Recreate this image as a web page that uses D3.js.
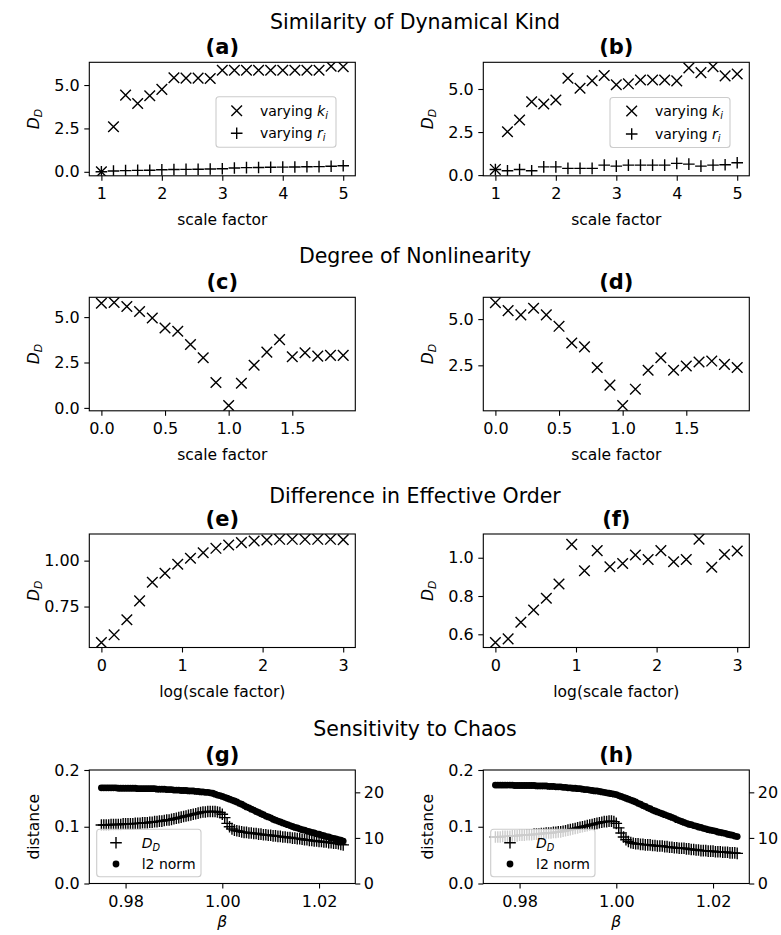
<!DOCTYPE html>
<html>
<head>
<meta charset="utf-8">
<script src="https://cdn.jsdelivr.net/npm/d3@7"></script>
<style>
  body { margin: 0; background: #fff; }
  svg text { font-family: "DejaVu Sans", sans-serif; fill: #000; }
</style>
</head>
<body>
<svg id="fig" width="781" height="935"></svg>
<script>
// ---- values ----
const scaleAB = [1.0, 1.2, 1.4, 1.6, 1.8, 2.0, 2.2, 2.4, 2.6, 2.8, 3.0, 3.2, 3.4, 3.6, 3.8, 4.0, 4.2, 4.4, 4.6, 4.8, 5.0];
const kiA = [0.0, 2.6, 4.42, 3.94, 4.38, 4.75, 5.42, 5.4, 5.4, 5.38, 5.85, 5.85, 5.85, 5.85, 5.85, 5.85, 5.85, 5.85, 5.85, 6.08, 6.05];
const riA = [0.0, 0.05, 0.07, 0.08, 0.09, 0.12, 0.13, 0.14, 0.15, 0.16, 0.18, 0.22, 0.24, 0.25, 0.26, 0.27, 0.28, 0.29, 0.3, 0.32, 0.35];
const kiB = [0.33, 2.52, 3.2, 4.26, 4.13, 4.36, 5.62, 5.04, 5.48, 5.78, 5.25, 5.3, 5.52, 5.52, 5.52, 5.47, 6.22, 5.95, 6.3, 5.76, 5.87];
const riB = [0.33, 0.25, 0.33, 0.25, 0.48, 0.48, 0.39, 0.39, 0.39, 0.58, 0.52, 0.58, 0.58, 0.58, 0.58, 0.68, 0.64, 0.52, 0.58, 0.6, 0.72];

const scaleCD = [0.0, 0.1, 0.2, 0.3, 0.4, 0.5, 0.6, 0.7, 0.8, 0.9, 1.0, 1.1, 1.2, 1.3, 1.4, 1.5, 1.6, 1.7, 1.8, 1.9];
const nonlinC = [5.76, 5.8, 5.58, 5.31, 4.95, 4.4, 4.22, 3.49, 2.76, 1.4, 0.13, 1.36, 2.35, 3.07, 3.76, 2.82, 3.04, 2.85, 2.89, 2.89];
const nonlinD = [5.89, 5.46, 5.23, 5.59, 5.23, 4.61, 3.71, 3.5, 2.38, 1.43, 0.32, 1.21, 2.23, 2.91, 2.23, 2.46, 2.68, 2.73, 2.55, 2.38];

const logScaleEF = [0, 0.158, 0.316, 0.474, 0.632, 0.789, 0.947, 1.105, 1.263, 1.421, 1.579, 1.737, 1.895, 2.053, 2.211, 2.368, 2.526, 2.684, 2.842, 3.0];
const orderE = [0.554, 0.596, 0.678, 0.781, 0.882, 0.931, 0.98, 1.013, 1.043, 1.067, 1.085, 1.098, 1.107, 1.112, 1.116, 1.116, 1.116, 1.116, 1.116, 1.114];
const orderF = [0.557, 0.576, 0.663, 0.727, 0.788, 0.863, 1.07, 0.932, 1.037, 0.953, 0.97, 1.014, 0.991, 1.037, 0.979, 0.991, 1.097, 0.95, 1.017, 1.035];

const beta = [
  0.975, 0.9755, 0.976, 0.9765, 0.977, 0.9775, 0.978, 0.9785, 0.979, 0.9795,
  0.98, 0.9805, 0.981, 0.9815, 0.982, 0.9825, 0.983, 0.9835, 0.984, 0.9845,
  0.985, 0.9855, 0.986, 0.9865, 0.987, 0.9875, 0.988, 0.9885, 0.989, 0.9895,
  0.99, 0.9905, 0.991, 0.9915, 0.992, 0.9925, 0.993, 0.9935, 0.994, 0.9945,
  0.995, 0.9955, 0.996, 0.9965, 0.997, 0.9975, 0.998, 0.9985, 0.999, 0.9995,
  1.0, 1.0005, 1.001, 1.0015, 1.002, 1.0025, 1.003, 1.0035, 1.004, 1.0045,
  1.005, 1.0055, 1.006, 1.0065, 1.007, 1.0075, 1.008, 1.0085, 1.009, 1.0095,
  1.01, 1.0105, 1.011, 1.0115, 1.012, 1.0125, 1.013, 1.0135, 1.014, 1.0145,
  1.015, 1.0155, 1.016, 1.0165, 1.017, 1.0175, 1.018, 1.0185, 1.019, 1.0195,
  1.02, 1.0205, 1.021, 1.0215, 1.022, 1.0225, 1.023, 1.0235, 1.024, 1.0245,
  1.025];
const ddG = [
  0.103, 0.103, 0.103, 0.103, 0.104, 0.104, 0.104, 0.104, 0.104, 0.105, 0.105,
  0.105, 0.105, 0.105, 0.106, 0.106, 0.106, 0.107, 0.107, 0.107, 0.108,
  0.108, 0.109, 0.109, 0.110, 0.110, 0.111, 0.112, 0.112, 0.113, 0.114,
  0.115, 0.116, 0.117, 0.118, 0.119, 0.120, 0.121, 0.122, 0.123, 0.124,
  0.125, 0.126, 0.126, 0.127, 0.127, 0.127, 0.127, 0.126, 0.125, 0.122,
  0.116, 0.106, 0.100, 0.096, 0.094, 0.093, 0.092, 0.091, 0.090, 0.090,
  0.089, 0.089, 0.088, 0.088, 0.087, 0.087, 0.086, 0.086, 0.085, 0.085,
  0.084, 0.084, 0.083, 0.083, 0.082, 0.082, 0.081, 0.081, 0.080, 0.080,
  0.079, 0.079, 0.078, 0.077, 0.077, 0.076, 0.076, 0.075, 0.075, 0.074,
  0.074, 0.073, 0.073, 0.072, 0.072, 0.071, 0.071, 0.070, 0.069, 0.068];
const l2G = [
  21.0, 21.0, 21.0, 21.0, 21.0, 21.0, 21.0, 20.9, 20.9, 20.9, 20.9,
  20.9, 20.9, 20.9, 20.9, 20.8, 20.8, 20.8, 20.8, 20.8, 20.8,
  20.8, 20.8, 20.7, 20.7, 20.7, 20.7, 20.6, 20.6, 20.6, 20.5, 20.5, 20.5,
  20.4, 20.4, 20.4, 20.3, 20.3, 20.3, 20.2, 20.2, 20.1, 20.1, 20.0, 20.0,
  19.9, 19.8, 19.6, 19.4, 19.3, 19.1, 18.9, 18.7,
  18.5, 18.3, 18.1, 17.9, 17.6, 17.4,
  17.1, 16.8, 16.6, 16.3, 16.1, 15.8, 15.6,
  15.3, 15.1, 14.8, 14.6, 14.4, 14.1, 13.9,
  13.7, 13.5, 13.3, 13.1, 12.9, 12.7, 12.5,
  12.3, 12.2, 12.0, 11.8, 11.7, 11.5, 11.4,
  11.2, 11.1, 10.9, 10.8, 10.6, 10.5, 10.3,
  10.2, 10.0, 9.9, 9.8, 9.6, 9.5, 9.3];
const ddH = [
  0.082, 0.082, 0.082, 0.083, 0.083, 0.083, 0.083, 0.084, 0.084, 0.084, 0.085,
  0.085, 0.085, 0.086, 0.086, 0.086, 0.087, 0.087, 0.087, 0.088, 0.088,
  0.089, 0.089, 0.089, 0.090, 0.090, 0.091, 0.091, 0.092, 0.093, 0.094,
  0.095, 0.096, 0.097, 0.098, 0.099, 0.100, 0.101, 0.102, 0.103, 0.104,
  0.105, 0.106, 0.107, 0.108, 0.109, 0.109, 0.110, 0.110, 0.109, 0.106,
  0.098, 0.089, 0.082, 0.077, 0.074, 0.072, 0.071, 0.070, 0.070, 0.069,
  0.069, 0.068, 0.068, 0.068, 0.067, 0.067, 0.066, 0.066, 0.066, 0.065,
  0.065, 0.064, 0.064, 0.063, 0.063, 0.062, 0.062, 0.062, 0.061, 0.061,
  0.060, 0.060, 0.059, 0.059, 0.058, 0.058, 0.058, 0.057, 0.057, 0.057,
  0.056, 0.056, 0.056, 0.055, 0.055, 0.055, 0.054, 0.054, 0.054, 0.053];
const l2H = [
  21.6, 21.6, 21.6, 21.6, 21.6, 21.6, 21.6, 21.6, 21.5, 21.5, 21.5,
  21.5, 21.5, 21.5, 21.5, 21.5, 21.5, 21.4, 21.4, 21.4, 21.4,
  21.4, 21.3, 21.3, 21.3, 21.2, 21.2, 21.2, 21.1, 21.1, 21.0,
  21.0, 20.9, 20.9, 20.8, 20.8, 20.7, 20.6, 20.6, 20.5, 20.4,
  20.3, 20.3, 20.2, 20.1, 20.0, 19.9, 19.8, 19.7, 19.6, 19.5,
  19.3, 19.1, 18.9, 18.7, 18.5, 18.3, 18.1, 17.9,
  17.6, 17.4, 17.1, 16.9, 16.6, 16.4, 16.1,
  15.9, 15.7, 15.5, 15.3, 15.1, 14.9, 14.7,
  14.5, 14.3, 14.0, 13.8, 13.6, 13.4, 13.2,
  13.0, 12.9, 12.7, 12.6, 12.4, 12.3, 12.1,
  12.0, 11.8, 11.7, 11.6, 11.5, 11.3, 11.2,
  11.1, 11.0, 10.8, 10.7, 10.6, 10.4, 10.3];

// ---- text ----
const sectionTitles = ['Similarity of Dynamical Kind', 'Degree of Nonlinearity', 'Difference in Effective Order', 'Sensitivity to Chaos'];
const panelTitles = ['(a)', '(b)', '(c)', '(d)', '(e)', '(f)', '(g)', '(h)'];
const lblDD = [{t: 'D', it: true}, {t: 'D', it: true, sub: true}];
const lblKi = [{t: 'varying '}, {t: 'k', it: true}, {t: 'i', it: true, sub: true}];
const lblRi = [{t: 'varying '}, {t: 'r', it: true}, {t: 'i', it: true, sub: true}];
const lblL2 = [{t: 'l2 norm'}];

// ---- drawing ----
const svg = d3.select('#fig');
svg.append('rect').attr('width', 781).attr('height', 935).attr('fill', '#fff');

const TICK_FS = 16, LABEL_FS = 15.5, LEGEND_FS = 14, TITLE_FS = 21, SUP_FS = 20.5;
const colX = [89.3, 483.3], rowY = [62.3, 297.3, 534, 770];
const W = 266, H = 113.5;
const markers = {
  x: 'M-5.3,-5.3L5.3,5.3M-5.3,5.3L5.3,-5.3',
  plus: 'M-5.8,0H5.8M0,-5.8V5.8'
};

// plain / italic / subscript pieces inside one text node
function rich(sel, parts, fs) {
  parts.forEach(p => {
    const t = sel.append('tspan').text(p.t);
    if (p.it) t.attr('font-style', 'italic');
    if (p.sub) t.attr('font-size', fs * 0.7).attr('dy', fs * 0.2);
  });
  return sel;
}

function drawMarks(g, xs, ys, x, y, kind) {
  const pts = d3.zip(xs, ys);
  if (kind === 'dot') {
    g.selectAll(null).data(pts).join('circle')
      .attr('cx', d => x(d[0])).attr('cy', d => y(d[1]))
      .attr('r', 3.4).attr('fill', '#000');
  } else {
    g.selectAll(null).data(pts).join('path')
      .attr('transform', d => `translate(${x(d[0])},${y(d[1])})`)
      .attr('d', markers[kind])
      .attr('stroke', '#000').attr('stroke-width', 1.4).attr('fill', 'none');
  }
}

function styleAxis(g) {
  g.select('.domain').remove();
  g.selectAll('.tick line').attr('stroke', '#000').attr('stroke-width', 1.1);
  g.selectAll('.tick text').attr('font-size', TICK_FS).attr('fill', '#000')
    .attr('font-family', '"DejaVu Sans", sans-serif');
}

function legend(l) {
  const g = svg.append('g');
  g.append('rect').attr('x', l.x).attr('y', l.y).attr('width', l.w).attr('height', l.h)
    .attr('rx', 3).attr('fill', '#fff').attr('fill-opacity', 0.8)
    .attr('stroke', '#cccccc').attr('stroke-width', 1.1);
  l.rows.forEach((r, i) => {
    const cy = l.rowY[i];
    if (r.mark === 'dot') {
      g.append('circle').attr('cx', l.markX).attr('cy', cy).attr('r', 3.4).attr('fill', '#000');
    } else {
      g.append('path').attr('transform', `translate(${l.markX},${cy})`).attr('d', markers[r.mark])
        .attr('stroke', '#000').attr('stroke-width', 1.4).attr('fill', 'none');
    }
    rich(g.append('text').attr('x', l.textX).attr('y', cy + 5).attr('font-size', LEGEND_FS), r.label, LEGEND_FS);
  });
}

function panel(p) {
  const left = colX[p.col], top = rowY[p.row];
  const x = d3.scaleLinear().domain(p.xDomain).range([left, left + W]);
  const y = d3.scaleLinear().domain(p.yDomain).range([top + H, top]);
  const clipId = 'clip-' + p.idx;
  svg.append('clipPath').attr('id', clipId).append('rect')
    .attr('x', left).attr('y', top).attr('width', W).attr('height', H);

  const xa = svg.append('g').attr('transform', `translate(0,${top + H})`)
    .call(d3.axisBottom(x).tickValues(p.xTicks).tickFormat(d3.format(p.xFmt)).tickSize(5).tickPadding(7));
  styleAxis(xa);
  const ya = svg.append('g').attr('transform', `translate(${left},0)`)
    .call(d3.axisLeft(y).tickValues(p.yTicks).tickFormat(d3.format(p.yFmt)).tickSize(5).tickPadding(4.5));
  styleAxis(ya);

  const plot = svg.append('g').attr('clip-path', `url(#${clipId})`);
  p.series.forEach(s => drawMarks(plot, s.x, s.y, x, y, s.mark));

  if (p.legend) legend(p.legend);

  if (p.right) {
    const yr = d3.scaleLinear().domain(p.right.domain).range([top + H, top]);
    const ra = svg.append('g').attr('transform', `translate(${left + W},0)`)
      .call(d3.axisRight(yr).tickValues(p.right.ticks).tickFormat(d3.format('d')).tickSize(5).tickPadding(3.5));
    styleAxis(ra);
    const plot2 = svg.append('g').attr('clip-path', `url(#${clipId})`);
    p.right.series.forEach(s => drawMarks(plot2, s.x, s.y, x, yr, s.mark));
  }

  svg.append('rect').attr('x', left).attr('y', top).attr('width', W).attr('height', H)
    .attr('fill', 'none').attr('stroke', '#000').attr('stroke-width', 1.1);

  svg.append('text').attr('x', left + W / 2).attr('y', top - 8.5)
    .attr('text-anchor', 'middle').attr('font-weight', 'bold').attr('font-size', TITLE_FS)
    .text(panelTitles[p.idx]);

  rich(svg.append('text').attr('x', left + W / 2).attr('y', top + H + (p.xLabelGap || 49))
    .attr('text-anchor', 'middle').attr('font-size', LABEL_FS), p.xLabel, LABEL_FS);

  rich(svg.append('text').attr('transform', `translate(${left - 56},${top + H / 2}) rotate(-90)`)
    .attr('dy', '0.35em').attr('text-anchor', 'middle').attr('font-size', LABEL_FS), p.yLabel, LABEL_FS);
}

const sfLabel = [{t: 'scale factor'}];
const logLabel = [{t: 'log(scale factor)'}];
const betaLabel = [{t: 'β', it: true}];

panel({idx: 0, col: 0, row: 0, xDomain: [0.8, 5.2], yDomain: [-0.23, 6.31],
  xTicks: [1, 2, 3, 4, 5], xFmt: 'd', yTicks: [0, 2.5, 5], yFmt: '.1f',
  xLabel: sfLabel, yLabel: lblDD,
  series: [{x: scaleAB, y: kiA, mark: 'x'}, {x: scaleAB, y: riA, mark: 'plus'}],
  legend: {x: 216, y: 96.7, w: 120, h: 50.6, markX: 236.7, textX: 260, rowY: [110.7, 133.3],
    rows: [{mark: 'x', label: lblKi}, {mark: 'plus', label: lblRi}]}});

panel({idx: 1, col: 1, row: 0, xDomain: [0.8, 5.2], yDomain: [-0.04, 6.55],
  xTicks: [1, 2, 3, 4, 5], xFmt: 'd', yTicks: [0, 2.5, 5], yFmt: '.1f',
  xLabel: sfLabel, yLabel: lblDD,
  series: [{x: scaleAB, y: kiB, mark: 'x'}, {x: scaleAB, y: riB, mark: 'plus'}],
  legend: {x: 610, y: 97.5, w: 120, h: 50, markX: 631.7, textX: 655, rowY: [111, 134],
    rows: [{mark: 'x', label: lblKi}, {mark: 'plus', label: lblRi}]}});

panel({idx: 2, col: 0, row: 1, xDomain: [-0.095, 1.995], yDomain: [-0.16, 6.09],
  xTicks: [0, 0.5, 1, 1.5], xFmt: '.1f', yTicks: [0, 2.5, 5], yFmt: '.1f',
  xLabel: sfLabel, yLabel: lblDD,
  series: [{x: scaleCD, y: nonlinC, mark: 'x'}]});

panel({idx: 3, col: 1, row: 1, xDomain: [-0.095, 1.995], yDomain: [0.04, 6.18],
  xTicks: [0, 0.5, 1, 1.5], xFmt: '.1f', yTicks: [2.5, 5], yFmt: '.1f',
  xLabel: sfLabel, yLabel: lblDD,
  series: [{x: scaleCD, y: nonlinD, mark: 'x'}]});

panel({idx: 4, col: 0, row: 2, xDomain: [-0.15, 3.15], yDomain: [0.527, 1.145],
  xTicks: [0, 1, 2, 3], xFmt: 'd', yTicks: [0.75, 1.0], yFmt: '.2f',
  xLabel: logLabel, yLabel: lblDD,
  series: [{x: logScaleEF, y: orderE, mark: 'x'}]});

panel({idx: 5, col: 1, row: 2, xDomain: [-0.15, 3.15], yDomain: [0.531, 1.124],
  xTicks: [0, 1, 2, 3], xFmt: 'd', yTicks: [0.6, 0.8, 1.0], yFmt: '.1f',
  xLabel: logLabel, yLabel: lblDD,
  series: [{x: logScaleEF, y: orderF, mark: 'x'}]});

panel({idx: 6, col: 0, row: 3, xDomain: [0.9725, 1.0275], yDomain: [0, 0.2],
  xTicks: [0.98, 1.0, 1.02], xFmt: '.2f', yTicks: [0, 0.1, 0.2], yFmt: '.1f',
  xLabel: betaLabel, xLabelGap: 43, yLabel: [{t: 'distance'}],
  series: [{x: beta, y: ddG, mark: 'plus'}],
  legend: {x: 96.7, y: 829.3, w: 104.3, h: 47.4, markX: 116, textX: 141.7, rowY: [842.7, 864],
    rows: [{mark: 'plus', label: lblDD}, {mark: 'dot', label: lblL2}]},
  right: {domain: [0, 24.9], ticks: [0, 10, 20], series: [{x: beta, y: l2G, mark: 'dot'}]}});

panel({idx: 7, col: 1, row: 3, xDomain: [0.9725, 1.0275], yDomain: [0, 0.2],
  xTicks: [0.98, 1.0, 1.02], xFmt: '.2f', yTicks: [0, 0.1, 0.2], yFmt: '.1f',
  xLabel: betaLabel, xLabelGap: 43, yLabel: [{t: 'distance'}],
  series: [{x: beta, y: ddH, mark: 'plus'}],
  legend: {x: 490.7, y: 829.3, w: 104.3, h: 47.4, markX: 510, textX: 536, rowY: [842.7, 864],
    rows: [{mark: 'plus', label: lblDD}, {mark: 'dot', label: lblL2}]},
  right: {domain: [0, 24.9], ticks: [0, 10, 20], series: [{x: beta, y: l2H, mark: 'dot'}]}});

const supY = [29, 263, 503, 736];
sectionTitles.forEach((t, i) => {
  svg.append('text').attr('x', 415).attr('y', supY[i]).attr('text-anchor', 'middle')
    .attr('font-size', SUP_FS).text(t);
});
</script>
</body>
</html>
